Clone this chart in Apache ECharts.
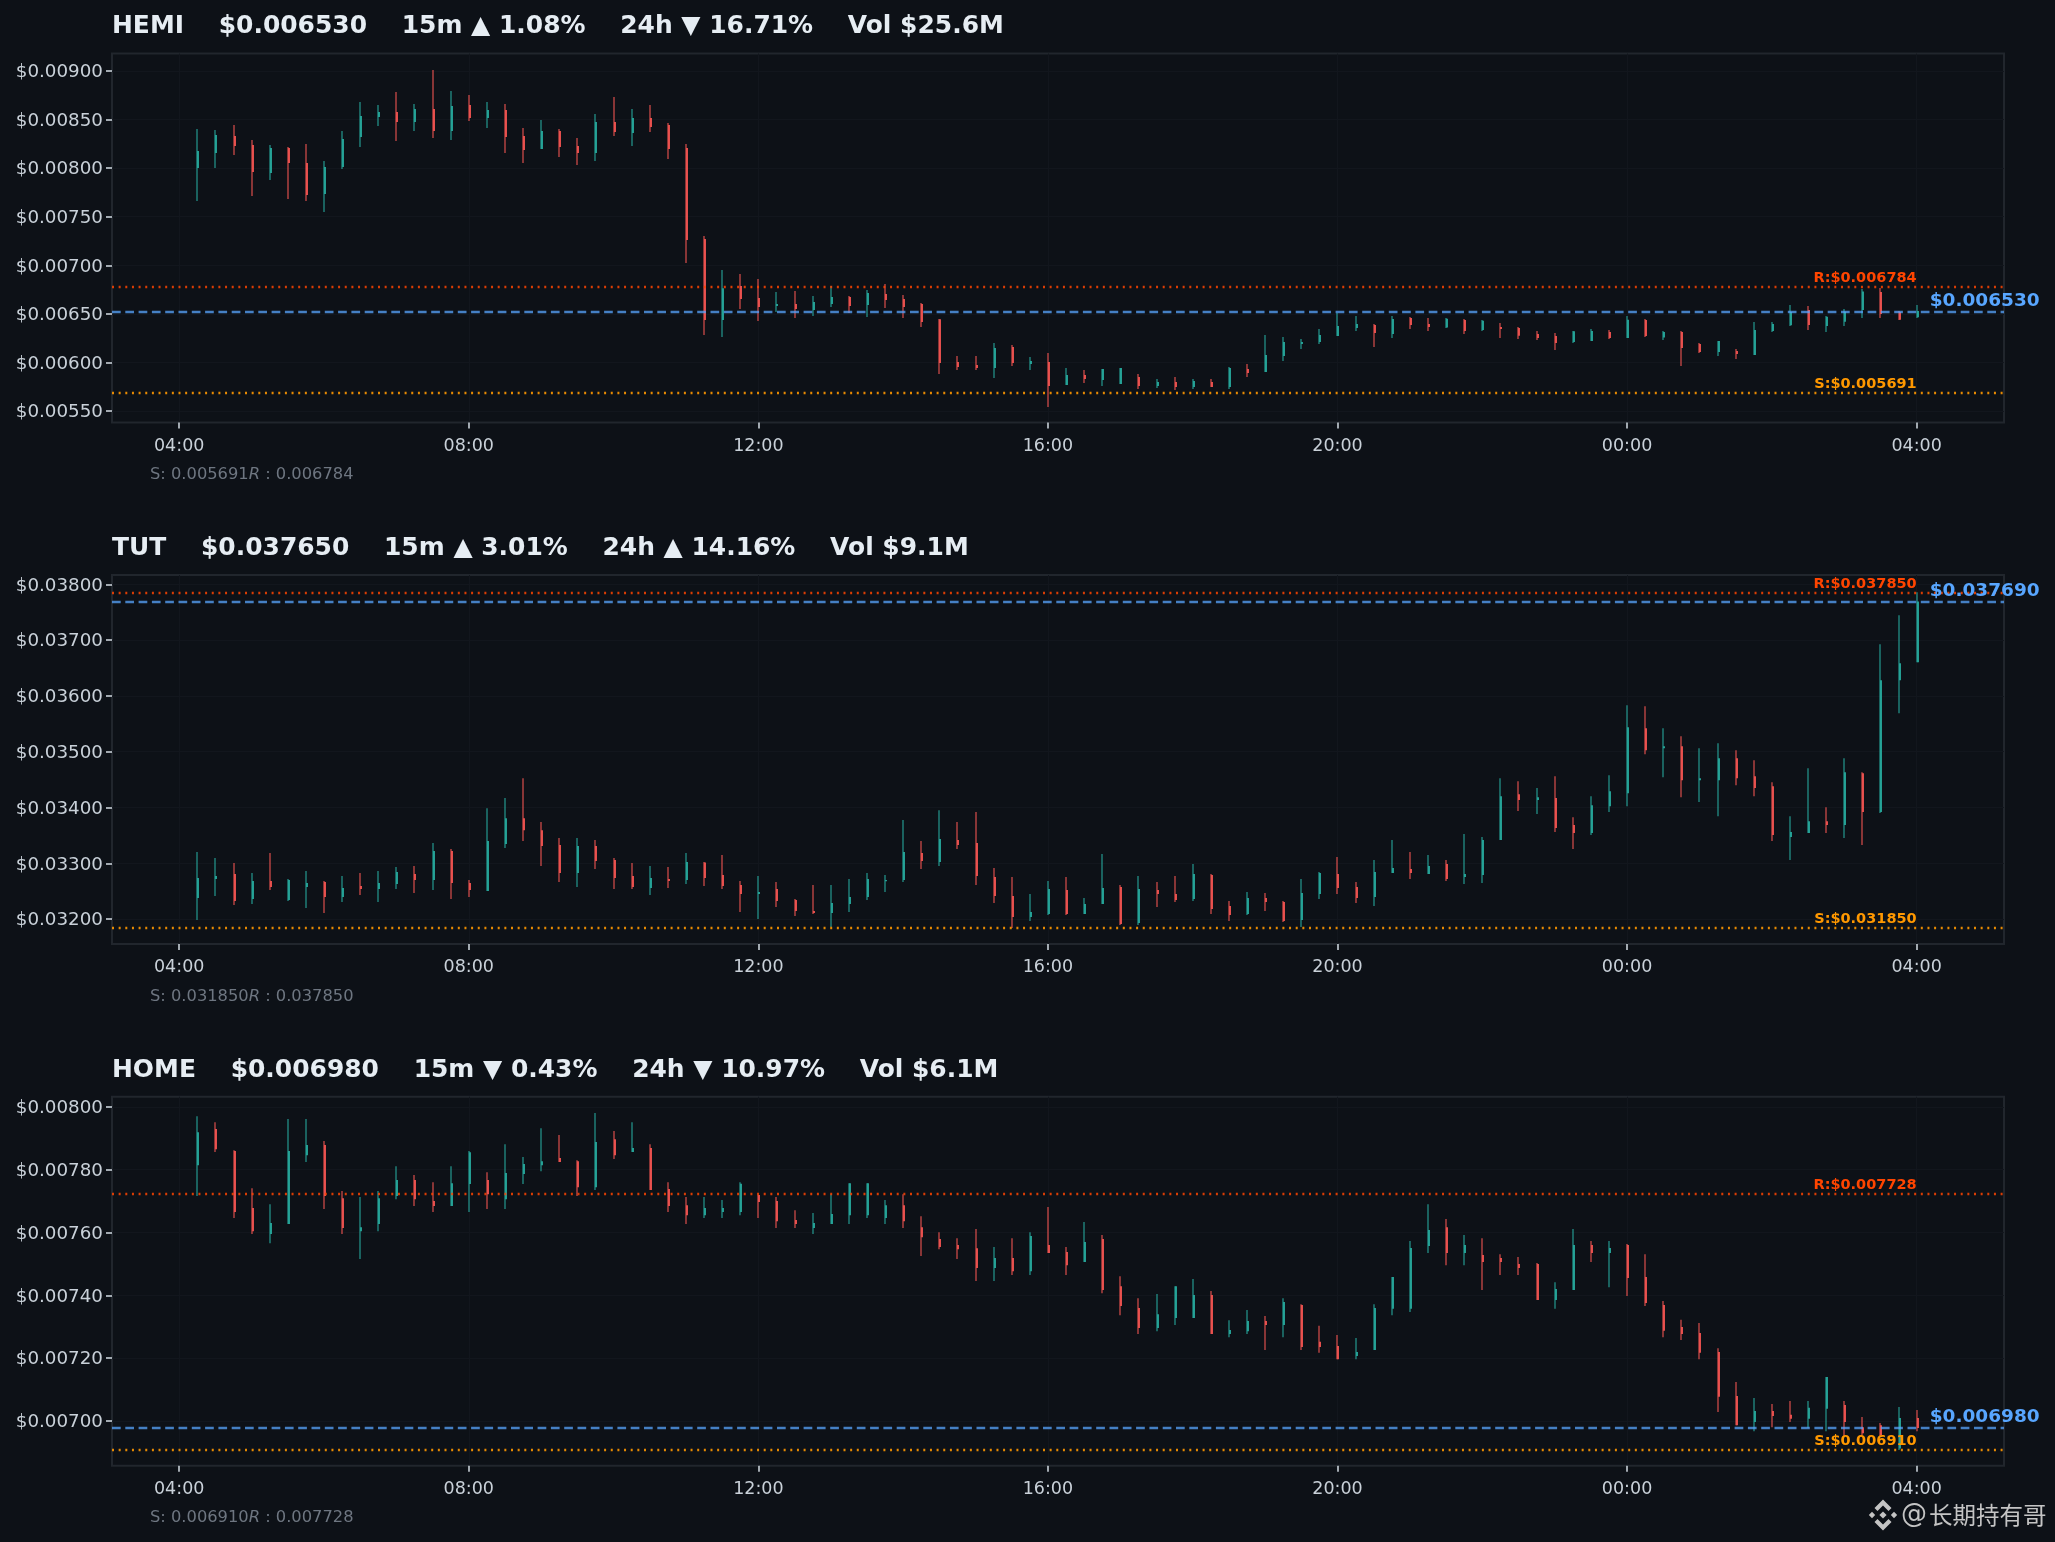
<!DOCTYPE html>
<html><head><meta charset="utf-8">
<style>html,body{margin:0;padding:0;background:#0d1117}#c{width:2055px;height:1542px}</style>
<script src="https://cdn.jsdelivr.net/npm/echarts@6/dist/echarts.min.js"></script>
</head><body><div id="c"></div>
<script>
// Prices in millionths of a dollar; one row per 15-minute candle, 04:15 to 04:00 next day: [open, close, high, low]
const hemiCandles=[[8002,8176,8403,7662],[8156,8341,8393,8002],[8331,8228,8444,8135],[8238,7960,8290,7713],[7950,8207,8238,7878],[8207,8053,8218,7683],[8053,7724,8249,7662],[7734,8012,8074,7549],[8012,8300,8382,7991],[8321,8537,8681,8218],[8527,8578,8650,8434],[8578,8475,8784,8280],[8475,8609,8660,8382],[8609,8382,9010,8310],[8382,8640,8794,8290],[8650,8516,8753,8485],[8516,8599,8681,8413],[8599,8321,8660,8156],[8331,8187,8413,8053],[8197,8382,8496,8197],[8382,8218,8403,8115],[8228,8156,8310,8032],[8156,8475,8557,8074],[8475,8372,8732,8331],[8362,8516,8609,8228],[8516,8424,8650,8372],[8444,8197,8465,8094],[8207,7260,8249,7024],[7271,6437,7302,6283],[6437,6763,6952,6262],[6787,6653,6910,6550],[6663,6571,6859,6426],[6581,6601,6725,6519],[6601,6550,6735,6457],[6540,6622,6684,6478],[6601,6673,6787,6570],[6673,6581,6684,6509],[6591,6715,6745,6468],[6704,6643,6807,6560],[6653,6570,6694,6457],[6601,6416,6612,6365],[6444,5994,6447,5881],[6004,5953,6066,5922],[5974,5943,6066,5922],[5943,6148,6200,5840],[6159,5994,6179,5963],[5984,6015,6056,5922],[6004,5757,6097,5541],[5768,5871,5943,5768],[5871,5829,5922,5788],[5819,5932,5932,5757],[5778,5943,5943,5778],[5850,5757,5881,5727],[5757,5799,5829,5737],[5799,5747,5850,5716],[5747,5809,5829,5727],[5799,5747,5829,5747],[5747,5943,5953,5727],[5932,5891,5984,5850],[5901,6076,6282,5901],[6066,6210,6262,6015],[6190,6210,6241,6138],[6210,6282,6344,6190],[6272,6375,6509,6272],[6354,6396,6478,6324],[6385,6303,6396,6159],[6293,6447,6478,6251],[6457,6385,6468,6344],[6396,6365,6457,6323],[6360,6450,6457,6354],[6437,6323,6447,6293],[6334,6430,6437,6323],[6365,6344,6406,6251],[6354,6275,6365,6241],[6293,6251,6323,6231],[6272,6200,6303,6128],[6210,6320,6323,6200],[6220,6323,6344,6220],[6313,6251,6334,6241],[6251,6440,6478,6251],[6437,6272,6447,6262],[6258,6313,6323,6231],[6313,6148,6323,5963],[6190,6107,6200,6097],[6107,6220,6220,6066],[6118,6087,6138,6035],[6076,6334,6416,6076],[6323,6396,6416,6313],[6382,6519,6591,6375],[6540,6385,6581,6334],[6375,6470,6478,6313],[6419,6523,6550,6375],[6540,6730,6756,6457],[6725,6498,6766,6457],[6519,6440,6529,6437],[6465,6530,6591,6457]];
const tutCandles=[[32377,32735,33200,31982],[32717,32771,33093,32412],[32806,32323,33003,32251],[32359,32681,32824,32269],[32681,32574,33183,32520],[32340,32699,32717,32323],[32574,32645,32860,32197],[32663,32394,32681,32108],[32394,32556,32771,32305],[32592,32538,32824,32430],[32538,32645,32860,32305],[32627,32842,32932,32538],[32806,32699,32950,32466],[32699,33218,33362,32520],[33218,32645,33254,32359],[32645,32520,32699,32394],[32502,33397,33988,32502],[33344,33809,34168,33272],[33809,33594,34526,33397],[33594,33308,33738,32950],[33326,32824,33451,32663],[32824,33308,33451,32574],[33308,33039,33415,32896],[33057,32735,33093,32538],[32771,32574,33003,32538],[32556,32735,32950,32430],[32717,32681,32932,32556],[32699,33021,33183,32627],[33015,32735,33021,32591],[32788,32591,33147,32538],[32609,32448,32681,32126],[32448,32484,32771,32000],[32538,32323,32663,32215],[32341,32144,32359,32054],[32144,32108,32609,32090],[32108,32287,32609,31857],[32269,32394,32717,32126],[32394,32717,32824,32341],[32681,32699,32789,32484],[32699,33200,33774,32663],[33183,33039,33397,32896],[33021,33433,33952,32950],[33415,33326,33738,33254],[33362,32771,33917,32609],[32753,32412,32914,32287],[32412,32036,32753,31839],[32036,32126,32448,31964],[32090,32538,32681,32072],[32520,32090,32753,32072],[32090,32269,32376,32090],[32269,32556,33165,32269],[32573,31911,32609,31893],[31929,32538,32771,31893],[32520,32448,32663,32215],[32448,32341,32771,32305],[32359,32806,32985,32323],[32788,32179,32806,32090],[32233,32072,32323,31964],[32090,32376,32484,32072],[32376,32305,32466,32144],[32305,31964,32323,31946],[31982,32466,32717,31857],[32448,32824,32842,32359],[32806,32556,33111,32448],[32573,32376,32663,32287],[32394,32842,33057,32233],[32824,32914,33415,32824],[32896,32824,33200,32717],[32806,32950,33147,32806],[32985,32717,33057,32681],[32753,32806,33523,32627],[32788,33415,33469,32645],[33415,34203,34526,33415],[34239,34132,34472,33935],[34132,34185,34347,33881],[34168,33630,34562,33559],[33684,33541,33827,33254],[33541,34042,34203,33505],[34024,34293,34579,33917],[34257,35439,35833,34024],[35421,35027,35815,34955],[35063,35099,35421,34544],[35099,34490,35278,34185],[34490,34526,35063,34096],[34490,34884,35152,33845],[34884,34526,35027,34400],[34562,34347,34848,34203],[34382,33505,34454,33397],[33469,33559,33845,33057],[33541,33755,34705,33541],[33755,33684,34006,33541],[33684,34633,34884,33451],[34615,33917,34633,33326],[33917,36281,36926,33899],[36281,36585,37445,35690],[36603,37690,37857,36603]];
const homeCandles=[[7814,7919,7970,7716],[7929,7865,7951,7856],[7859,7665,7862,7646],[7678,7604,7741,7595],[7595,7630,7690,7566],[7627,7859,7961,7627],[7846,7878,7961,7824],[7878,7716,7891,7675],[7709,7614,7732,7595],[7604,7617,7713,7516],[7627,7709,7732,7604],[7716,7767,7811,7706],[7767,7706,7783,7684],[7700,7684,7760,7665],[7684,7757,7811,7684],[7754,7855,7859,7665],[7767,7722,7792,7675],[7706,7789,7881,7675],[7786,7818,7840,7754],[7814,7827,7932,7795],[7837,7824,7910,7824],[7827,7744,7830,7716],[7744,7888,7980,7735],[7897,7846,7923,7834],[7856,7869,7951,7856],[7869,7735,7881,7735],[7738,7684,7760,7665],[7687,7655,7713,7627],[7655,7678,7713,7646],[7665,7678,7703,7646],[7665,7755,7760,7655],[7719,7697,7719,7646],[7700,7636,7713,7614],[7640,7627,7671,7614],[7614,7630,7662,7595],[7627,7659,7722,7627],[7655,7757,7757,7627],[7655,7757,7757,7646],[7646,7687,7703,7627],[7687,7636,7722,7614],[7617,7585,7652,7525],[7579,7554,7601,7547],[7560,7547,7582,7516],[7550,7487,7611,7446],[7487,7519,7554,7446],[7519,7477,7582,7465],[7477,7589,7601,7465],[7560,7535,7681,7535],[7538,7496,7554,7465],[7506,7570,7633,7506],[7579,7417,7592,7407],[7429,7366,7461,7337],[7360,7296,7391,7277],[7296,7340,7404,7286],[7328,7429,7429,7306],[7328,7401,7452,7328],[7401,7277,7414,7277],[7277,7290,7321,7267],[7286,7318,7353,7277],[7318,7306,7334,7226],[7306,7379,7391,7267],[7369,7236,7372,7226],[7252,7236,7303,7217],[7239,7197,7274,7197],[7207,7220,7264,7197],[7226,7360,7372,7226],[7357,7458,7458,7337],[7357,7551,7573,7347],[7557,7608,7690,7535],[7617,7535,7643,7496],[7535,7560,7592,7496],[7528,7506,7582,7417],[7519,7506,7531,7465],[7500,7487,7522,7465],[7500,7385,7503,7385],[7385,7420,7442,7357],[7417,7560,7611,7417],[7560,7535,7573,7506],[7535,7551,7573,7426],[7560,7455,7563,7398],[7458,7376,7531,7366],[7369,7287,7382,7267],[7299,7277,7322,7258],[7280,7217,7312,7197],[7220,7077,7232,7029],[7080,6987,7124,6987],[6997,7032,7073,6968],[7032,7016,7054,6980],[7020,7007,7064,6997],[7007,7042,7064,6978],[7039,7140,7140,6968],[7051,6997,7064,6953],[6980,6961,7013,6956],[6987,6956,6994,6950],[6913,7010,7045,6908],[7010,6978,7035,6968]];

const hemiTicks=[0.0055,0.006,0.0065,0.007,0.0075,0.008,0.0085,0.009];
const tutTicks=[0.032,0.033,0.034,0.035,0.036,0.037,0.038];
const homeTicks=[0.007,0.0072,0.0074,0.0076,0.0078,0.008];
const hemiRange=[0.005382,0.009180];
const tutRange=[0.031553,0.038167];
const homeRange=[0.006858,0.008032];
const timeTicks=[240,480,720,960,1200,1440,1680];   // minutes since 00:00 of the first day
const timeRange=[184.3,1752.4];
const firstCandleMinute=255, candleMinutes=15;

const symbols=['HEMI','TUT','HOME'];
const headers=[
 'HEMI    $0.006530    15m ▲ 1.08%    24h ▼ 16.71%    Vol $25.6M',
 'TUT    $0.037650    15m ▲ 3.01%    24h ▲ 14.16%    Vol $9.1M',
 'HOME    $0.006980    15m ▼ 0.43%    24h ▼ 10.97%    Vol $6.1M'];
const supportValues=[0.005691,0.03185,0.00691];
const resistanceValues=[0.006784,0.03785,0.007723];
const supportLabels=['0.005691','0.031850','0.006910'];
const resistanceLabels=['0.006784','0.037850','0.007728'];
const currentValues=[0.006526,0.03769,0.00698];
const currentLabels=['$0.006530','$0.037690','$0.006980'];

const candleSets=[hemiCandles,tutCandles,homeCandles];
const tickSets=[hemiTicks,tutTicks,homeTicks];
const rangeSets=[hemiRange,tutRange,homeRange];

const FONT='"DejaVu Sans"';
const BG='#0d1117',SPINE='#21262d',GRIDC='#12161d',TICK='#c9d1d9';
const UP='#26a69a',DOWN='#ef5350';
const panelTop=[53.5,575,1096.7],panelH=369,panelL=112,panelW=1892;

const fmtTime=m=>{const h=Math.floor(m/60)%24,mi=Math.round(m%60);return String(h).padStart(2,'0')+':'+String(mi).padStart(2,'0');};

const candleItem=(params,api)=>{
  const x=Math.round(api.coord([api.value(0),0])[0]);
  const yO=api.coord([0,api.value(1)])[1],yC=api.coord([0,api.value(2)])[1];
  const yH=api.coord([0,api.value(3)])[1],yL=api.coord([0,api.value(4)])[1];
  const col=api.value(2)>=api.value(1)?UP:DOWN;
  const top=Math.min(yO,yC),h=Math.max(Math.abs(yO-yC),1.2);
  return {type:'group',children:[
    {type:'rect',shape:{x:x-1,y:yH,width:2,height:yL-yH},style:{fill:col,opacity:0.55}},
    {type:'rect',shape:{x:x,y:top,width:2,height:h},style:{fill:col,opacity:0.95}}
  ]};
};

const grid=[],xAxis=[],yAxis=[],series=[],title=[];
symbols.forEach((sym,i)=>{
  grid.push({left:panelL,top:panelTop[i],width:panelW,height:panelH,show:true,backgroundColor:BG,borderColor:SPINE,borderWidth:2});
  xAxis.push({type:'value',gridIndex:i,min:timeRange[0],max:timeRange[1],
    axisLine:{show:false},
    axisTick:{show:true,length:6,inside:false,customValues:timeTicks,lineStyle:{color:TICK,width:1.6}},
    axisLabel:{show:true,customValues:timeTicks,margin:14.5,fontFamily:FONT,fontSize:17.5,color:TICK,formatter:fmtTime},
    splitLine:{show:true,lineStyle:{color:GRIDC,width:1}}});
  yAxis.push({type:'value',gridIndex:i,min:rangeSets[i][0],max:rangeSets[i][1],
    axisLine:{show:false},
    axisTick:{show:true,length:6,customValues:tickSets[i],lineStyle:{color:TICK,width:1.6}},
    axisLabel:{show:true,customValues:tickSets[i],margin:9,verticalAlign:'top',lineHeight:3,fontFamily:FONT,fontSize:18.3,color:TICK,formatter:v=>'$'+v.toFixed(5)},
    splitLine:{show:true,lineStyle:{color:GRIDC,width:1}}});

  series.push({type:'custom',name:sym,xAxisIndex:i,yAxisIndex:i,z:3,clip:true,silent:true,animation:false,
    data:candleSets[i].map((r,k)=>[firstCandleMinute+k*candleMinutes,r[0]/1e6,r[1]/1e6,r[2]/1e6,r[3]/1e6]),
    encode:{x:0,y:[1,2,3,4]},renderItem:candleItem});

  series.push({type:'line',name:sym+' levels',xAxisIndex:i,yAxisIndex:i,z:5,data:[],silent:true,animation:false,
    markLine:{silent:true,symbol:'none',animation:false,precision:8,label:{show:false},data:[
      {yAxis:resistanceValues[i],lineStyle:{color:'#ff4500',opacity:0.85,type:[2,4.65],width:2.4}},
      {yAxis:supportValues[i],lineStyle:{color:'#ff9800',opacity:0.9,type:[2,4.65],width:2.4}},
      {yAxis:currentValues[i],lineStyle:{color:'#58a6ff',opacity:0.75,type:[8.7,4.6],width:2.4}}
    ]}});

  const lastX=timeTicks[timeTicks.length-1];
  const txt=[
    {v:resistanceValues[i],s:'R:$'+resistanceLabels[i],c:'#ff4500',fs:14.5,a:'right',dx:0,dy:-8.5},
    {v:supportValues[i],s:'S:$'+supportLabels[i],c:'#ff9800',fs:14.5,a:'right',dx:0,dy:-8.5},
    {v:currentValues[i],s:currentLabels[i],c:'#58a6ff',fs:18.5,a:'left',dx:13,dy:-10.5}
  ];
  series.push({type:'custom',name:sym+' labels',xAxisIndex:i,yAxisIndex:i,z:6,clip:false,silent:true,animation:false,
    data:txt.map((t,k)=>[lastX,t.v,k]),encode:{x:0,y:1},
    renderItem:(params,api)=>{
      const t=txt[api.value(2)],p=api.coord([api.value(0),api.value(1)]);
      return {type:'text',x:p[0]+t.dx,y:p[1]+t.dy,style:{text:t.s,fill:t.c,textAlign:t.a,textVerticalAlign:'middle',
        font:'bold '+t.fs+'px '+FONT}};
    }});

  title.push({text:headers[i],left:112,top:panelTop[i]-41.5,padding:0,
    textStyle:{fontFamily:FONT,fontWeight:'bold',fontSize:24.95,color:'#e6edf3',lineHeight:30}});
  title.push({text:'{a|S: '+supportLabels[i]+'}{b|R}{a| : '+resistanceLabels[i]+'}',left:150,top:panelTop[i]+413.5,padding:0,
    textStyle:{fontWeight:'normal',rich:{a:{fontFamily:FONT,fontWeight:'normal',fontSize:16.3,color:'#6e7681'},b:{fontFamily:FONT,fontWeight:'normal',fontStyle:'italic',fontSize:16.3,color:'#6e7681'}}}});
});

const wm='#c4c4c4';
const diamond=(cx,cy,r)=>({type:'polygon',shape:{points:[[cx,cy-r],[cx+r,cy],[cx,cy+r],[cx-r,cy]]},style:{fill:wm}});
const chevron=(cx,cy,r,d)=>({type:'polygon',shape:{points:[[cx,cy-d*r],[cx+r,cy],[cx+r-3,cy+d*3],[cx,cy-d*(r-6)],[cx-r+3,cy+d*3],[cx-r,cy]]},style:{fill:wm}});
const graphic=[
  chevron(1883,1508,8.5,1),chevron(1883,1522,8.5,-1),diamond(1872,1515,3.2),diamond(1894,1515,3.2),diamond(1883,1515,3.6),
  {type:'text',x:1901,y:1515,style:{text:'@',font:'26px "DejaVu Sans"',fill:wm,textVerticalAlign:'middle'}},
  {type:'text',x:1929,y:1515,style:{text:'长期持有哥',font:'23.5px "Noto Sans CJK SC"',fill:wm,textVerticalAlign:'middle'}}
];

const chart=echarts.init(document.getElementById('c'),null,{renderer:'canvas',width:2055,height:1542});
chart.setOption({animation:false,backgroundColor:BG,tooltip:{show:false},title,grid,xAxis,yAxis,series,graphic});
</script></body></html>
